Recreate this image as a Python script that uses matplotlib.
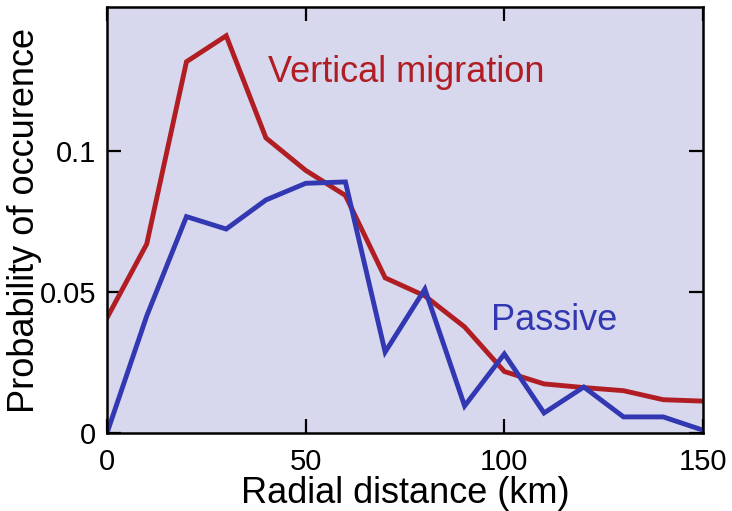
import matplotlib
matplotlib.use("Agg")
import matplotlib.pyplot as plt

plt.rcParams['font.family'] = ['Liberation Sans', 'DejaVu Sans']

# radial distance bins (km)
distance = [0, 10, 20, 30, 40, 50, 60, 70, 80, 90, 100, 110, 120, 130, 140, 150]

# probability of occurence
vertical = [0.0408, 0.067, 0.1316, 0.1408, 0.1046, 0.0931, 0.0842, 0.055, 0.0486, 0.0376,
            0.0218, 0.0174, 0.0161, 0.0150, 0.0118, 0.0113]
passive = [0.0, 0.0415, 0.0767, 0.0723, 0.0826, 0.0885, 0.0890, 0.0287, 0.0510, 0.0096,
           0.0280, 0.0071, 0.0163, 0.0057, 0.0057, 0.0010]

red = '#B01E23'
blue = '#3237B2'

fig = plt.figure(figsize=(7.32, 5.11), dpi=100)
ax = fig.add_axes([107 / 732, 78 / 511, 596 / 732, 426 / 511])
ax.set_facecolor('#D7D7EE')

ax.plot(distance, vertical, color=red, lw=3.5, solid_joinstyle='miter')
ax.plot(distance, passive, color=blue, lw=3.5, solid_joinstyle='miter')

ax.text(40.5, 0.1245, 'Vertical migration', color=red, fontsize=26)
ax.text(96.6, 0.0365, 'Passive', color=blue, fontsize=26)

ax.set_xlim(0, 150)
ax.set_ylim(0, 0.151)
ax.set_xticks([0, 50, 100, 150])
ax.set_yticks([0, 0.05, 0.1])
ax.set_yticklabels(['0', '0.05', '0.1'])
ax.tick_params(direction='in', length=10, width=1.6, labelsize=21,
               top=True, right=True, pad=8)
ax.tick_params(axis='x', pad=11)
for s in ax.spines.values():
    s.set_linewidth(1.8)

ax.set_xlabel('Radial distance (km)', fontsize=26, labelpad=0)
ax.set_ylabel('Probability of occurence', fontsize=26, labelpad=-2)

fig.savefig('out.png', dpi=100)
